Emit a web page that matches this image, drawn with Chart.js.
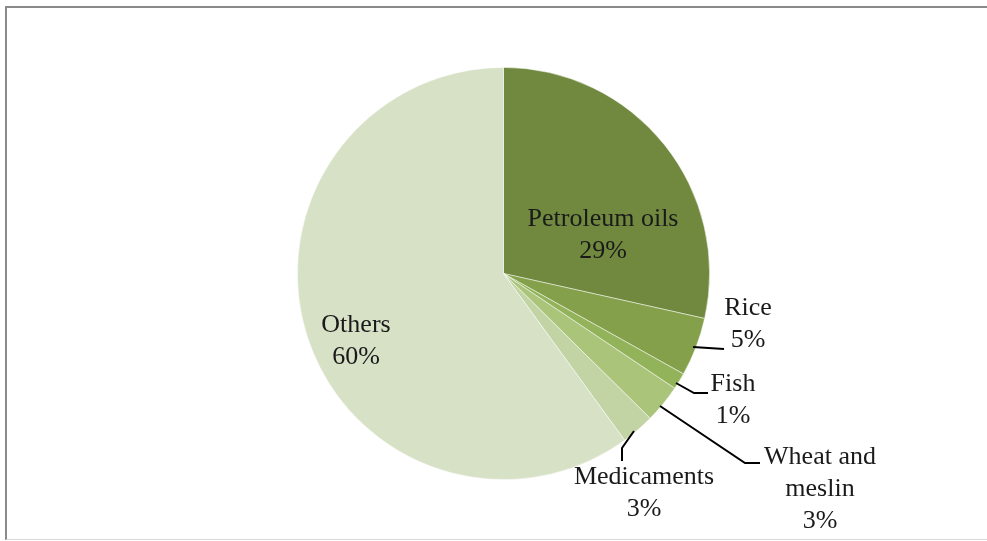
<!DOCTYPE html>
<html>
<head>
<meta charset="utf-8">
<script src="https://cdn.jsdelivr.net/npm/chart.js@4.4.1/dist/chart.umd.min.js"></script>
<style>
  html, body { margin: 0; padding: 0; background: #fff; }
  #wrap { position: relative; width: 987px; height: 541px; }
  #frame { position: absolute; left: 5px; top: 6px; width: 990px; height: 534px;
           border-left: 2px solid #8a8a8a; border-top: 2px solid #8a8a8a; border-bottom: 1px solid #d9d9d9; box-sizing: border-box; }
  canvas { position: absolute; left: 0; top: 0; }
</style>
</head>
<body>
<div id="wrap">
  <div id="frame"></div>
  <canvas id="chart" width="987" height="541"></canvas>
</div>
<script>
// data
const categories = ['Petroleum oils', 'Rice', 'Fish', 'Wheat and meslin', 'Medicaments', 'Others'];
const shares = [28.5, 4.6, 1.3, 3.0, 2.6, 60.0];
const shareLabels = ['29%', '5%', '1%', '3%', '3%', '60%'];
const sliceColors = ['#71893f', '#84a04a', '#93b35a', '#aac47a', '#c2d3a4', '#d7e1c6'];

// where each label sits, and its leader line (null = inside slice)
const labelPos = [
  { x: 603, y: 219, lines: ['Petroleum oils'], leader: null },
  { x: 748, y: 308, lines: ['Rice'], leader: [[693, 347], [724, 349]] },
  { x: 733, y: 384, lines: ['Fish'], leader: [[676, 383], [694, 393], [708, 393]] },
  { x: 820, y: 457, lines: ['Wheat and', 'meslin'], leader: [[660, 406], [745, 463], [760, 463]] },
  { x: 644, y: 477, lines: ['Medicaments'], leader: [[634, 431], [622, 448], [622, 461]] },
  { x: 356, y: 325, lines: ['Others'], leader: null }
];

const labelPlugin = {
  id: 'sliceLabels',
  afterDraw(chart) {
    const ctx = chart.ctx;
    ctx.save();
    ctx.strokeStyle = '#000';
    ctx.lineWidth = 2;
    labelPos.forEach(p => {
      if (p.leader) {
        ctx.beginPath();
        ctx.moveTo(p.leader[0][0], p.leader[0][1]);
        for (let i = 1; i < p.leader.length; i++) ctx.lineTo(p.leader[i][0], p.leader[i][1]);
        ctx.stroke();
      }
    });
    ctx.fillStyle = '#1a1a1a';
    ctx.font = '26px "Liberation Serif", "DejaVu Serif", serif';
    ctx.textAlign = 'center';
    ctx.textBaseline = 'middle';
    labelPos.forEach((p, i) => {
      const rows = p.lines.concat([shareLabels[i]]);
      rows.forEach((t, k) => ctx.fillText(t, p.x, p.y + k * 32));
    });
    ctx.restore();
  }
};

new Chart(document.getElementById('chart'), {
  type: 'pie',
  data: {
    labels: categories,
    datasets: [{
      data: shares,
      backgroundColor: sliceColors,
      borderColor: 'rgba(255,255,255,0.6)',
      borderWidth: 0.8
    }]
  },
  options: {
    responsive: false,
    animation: false,
    layout: { padding: { top: 67, bottom: 61, left: 297, right: 277 } },
    plugins: {
      legend: { display: false },
      tooltip: { enabled: false }
    }
  },
  plugins: [labelPlugin]
});
</script>
</body>
</html>
